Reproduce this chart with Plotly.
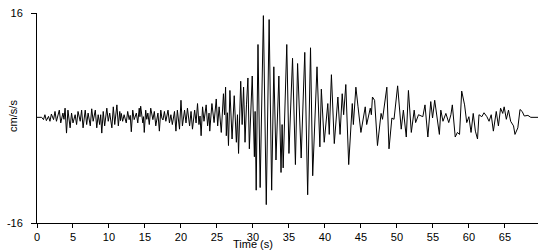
import plotly.graph_objects as go

# Time (s) of the points
times = [
    0.0, 0.65, 0.9, 1.1, 1.3, 1.6, 1.8, 2.0, 2.3, 2.5, 2.7, 2.9, 3.1, 3.3, 3.6, 3.75, 3.9, 4.1, 4.3, 4.6,
    4.8, 5.0, 5.15, 5.3, 5.5, 5.7, 6.0, 6.2, 6.4, 6.7, 6.9, 7.1, 7.4, 7.6, 7.8, 8.1, 8.3, 8.5, 8.7, 8.85,
    9.0, 9.2, 9.4, 9.7, 9.9, 10.1, 10.4, 10.6, 10.8, 11.1, 11.3, 11.5,
    11.6, 11.7, 11.9, 12.1, 12.4, 12.6, 12.8, 12.95, 13.1, 13.3, 13.5, 13.8, 14.0, 14.2, 14.3, 14.4, 14.7, 14.8,
    14.9, 15.1, 15.25, 15.4, 15.6, 15.8, 16.1, 16.3, 16.5, 16.8, 17.0, 17.2, 17.35, 17.5, 17.7, 17.9, 18.2, 18.4,
    18.6, 18.8, 19.1, 19.3, 19.5, 19.8, 20.0, 20.2, 20.5, 20.7, 20.9, 21.2, 21.4, 21.6, 21.9, 22.1, 22.3, 22.5,
    22.65, 22.8, 23.0, 23.2, 23.5, 23.7, 23.9,
    24.0, 24.3, 24.6, 24.9, 25.1, 25.3, 25.6, 25.9, 26.05, 26.2, 26.3, 26.45, 26.6, 26.8, 27.1, 27.4, 27.7, 27.85,
    28.0, 28.3, 28.5, 28.7, 28.9, 29.1, 29.3, 29.5, 29.7, 29.9, 30.2, 30.3, 30.45, 30.7, 31.0, 31.45, 31.85, 32.25,
    32.6, 32.9, 33.2, 33.4, 33.6, 33.9, 34.05, 34.2, 34.7, 35.0, 35.5, 35.9, 36.2, 36.7, 37.2, 37.6, 38.0, 38.3,
    38.6, 38.9, 39.3, 39.5, 39.9, 40.2, 40.4, 40.6, 40.9, 41.3, 41.8, 42.1, 42.4, 42.6, 42.9, 43.3,
    43.8, 43.95, 44.3, 44.6, 45.0, 45.6, 45.8, 46.3, 46.45, 46.6, 46.9, 47.3, 47.8, 48.0, 48.6, 48.9, 49.3, 49.6,
    50.1, 50.6, 50.9, 51.3, 51.6, 52.0, 52.4, 52.6, 53.0, 53.6, 53.9, 54.3, 54.7, 54.95, 55.25,
    55.9, 56.1, 56.4, 56.8, 57.2, 57.5, 57.7, 58.1, 58.4, 58.7, 59.0, 59.4, 59.7, 60.0, 60.3, 60.6, 60.9, 61.2,
    61.4, 61.8, 62.1, 62.5, 62.8, 63.1, 63.4, 63.8, 64.1, 64.4, 64.7, 64.9, 65.2, 65.5, 65.8, 66.2, 66.4, 66.8,
    67.1, 67.4, 67.7, 68.2, 68.6, 69.6,
]

# Acceleration (cm/s/s) at those times
accel = [
    0.1, 0.1, -0.25, 0.5, -0.4, 0.25, -0.5, 0.6, -0.25, 1.0, -0.5, 0.3, 1.2, -0.75, 0.75, -0.2, 1.5, -2.3, 1.2, -1.5,
    0.75, -0.75, 0.1, 0.5, -1.0, 1.0, -0.5, 1.2, -1.5, 1.2, -1.0, 0.75, -1.2, 1.4, -0.5, 1.2, -1.5, 0.5, -1.0, 0.5,
    -2.3, 1.0, -1.2, 1.5, -0.5, 0.75, -1.5, 1.7, -1.0, 2.0, -1.2, 1.0,
    -0.4, 0.7, -0.5, 0.5, -0.75, 1.0, -0.25, 0.4, -2.1, 1.2, -0.25, 0.75, -0.75, 1.5, 0.2, 1.8, -0.75, 0.2,
    -2.2, 1.2, -0.2, 0.75, -1.0, 1.5, -0.25, 1.0, -1.2, 0.75, -2.0, 1.2, 0.0, -0.3, 1.0, -0.5, 1.2, -0.75,
    0.5, -1.0, 1.0, -2.0, 1.2, -1.7, 2.7, -1.2, 1.2, -0.75, 1.5, -1.2, 1.0, -1.7, 1.2, -0.75, 2.2, -1.0,
    0.3, -2.7, 1.7, -0.5, 2.0, -1.2, 0.75,
    -2.0, 2.2, -0.7, 2.9, -1.2, 1.7, -2.2, 3.7, 0.5, 4.7, -2.7, 0.8, -4.2, 4.2, -3.2, 3.4, -3.7, 0.5,
    -5.4, 5.6, -1.0, 4.7, -3.7, 2.0, 6.1, -4.7, 1.5, 6.4, -5.9, 1.0, -11.0, 11.2, -10.6, 15.6, -13.2, 15.0,
    -11.0, 7.8, -6.4, 2.0, 6.4, -8.3, -1.0, -7.6, 11.2, -5.4, 9.1, -7.1, 8.3, -6.1, 10.0, -11.7, 10.7, -8.8,
    1.0, 7.8, -4.4, 4.4, -3.7, 0.5, 2.2, -2.5, 6.6, -3.9, 3.2, -2.5, 3.7, 0.5, 5.1, -7.1,
    2.2, -1.0, 4.7, 1.7, -2.2, 1.7, -1.0, 1.5, 0.5, 3.2, 2.7, -4.2, 0.7, -0.2, 4.7, -4.7, 0.0, -0.2,
    4.9, -1.7, 1.2, -2.9, 4.2, -2.2, 1.2, -0.7, 0.5, 0.2, 2.0, -2.9, 2.5, 0.0, 2.7,
    -2.5, 1.2, -0.5, 0.7, -0.7, 0.5, 2.0, -2.9, -2.2, -2.5, 4.1, 2.0, -0.7, 0.2, -2.2, 0.7, -2.0, -3.2,
    0.5, 0.2, 0.8, 0.2, -0.5, 0.5, -2.0, 1.0, -1.2, 1.5, 0.7, 1.7, -0.2, 1.2, -0.5, -1.2, -2.5, -1.5,
    1.3, 1.0, 0.3, 0.4, 0.1, 0.1,
]

x_ticks = [0, 5, 10, 15, 20, 25, 30, 35, 40, 45, 50, 55, 60, 65]
y_ticks = [-16, 16]

fig = go.Figure()
fig.add_trace(go.Scatter(x=times, y=accel, mode="lines",
                         line=dict(color="black", width=1), hoverinfo="skip"))

font = dict(family="Liberation Sans, Arial, sans-serif", size=11, color="black")

fig.update_layout(
    width=550, height=250,
    margin=dict(l=36, r=12, t=7, b=24),
    paper_bgcolor="white", plot_bgcolor="white",
    showlegend=False, font=font,
    xaxis=dict(range=[0, 69.6], tickvals=x_ticks, ticktext=[str(v) for v in x_ticks],
               showline=True, linecolor="black", linewidth=1, ticks="outside",
               ticklen=4, tickcolor="black", showgrid=False, zeroline=False),
    yaxis=dict(range=[-16, 16], tickvals=y_ticks, ticktext=[str(v) for v in y_ticks],
               showline=True, linecolor="black", linewidth=1, ticks="outside",
               ticklen=5, tickcolor="black", showgrid=False, zeroline=False,
               ticklabelstandoff=6),
    annotations=[
        dict(text="Time (s)", xref="x", x=30, yref="paper", y=0, yshift=-21,
             showarrow=False, xanchor="center", yanchor="middle", font=font),
        dict(text="cm/s/s", xref="paper", x=0, xshift=-24, yref="paper", y=0.51,
             showarrow=False, textangle=-90, xanchor="center", yanchor="middle", font=font),
    ],
)

fig.write_html("out.html")
